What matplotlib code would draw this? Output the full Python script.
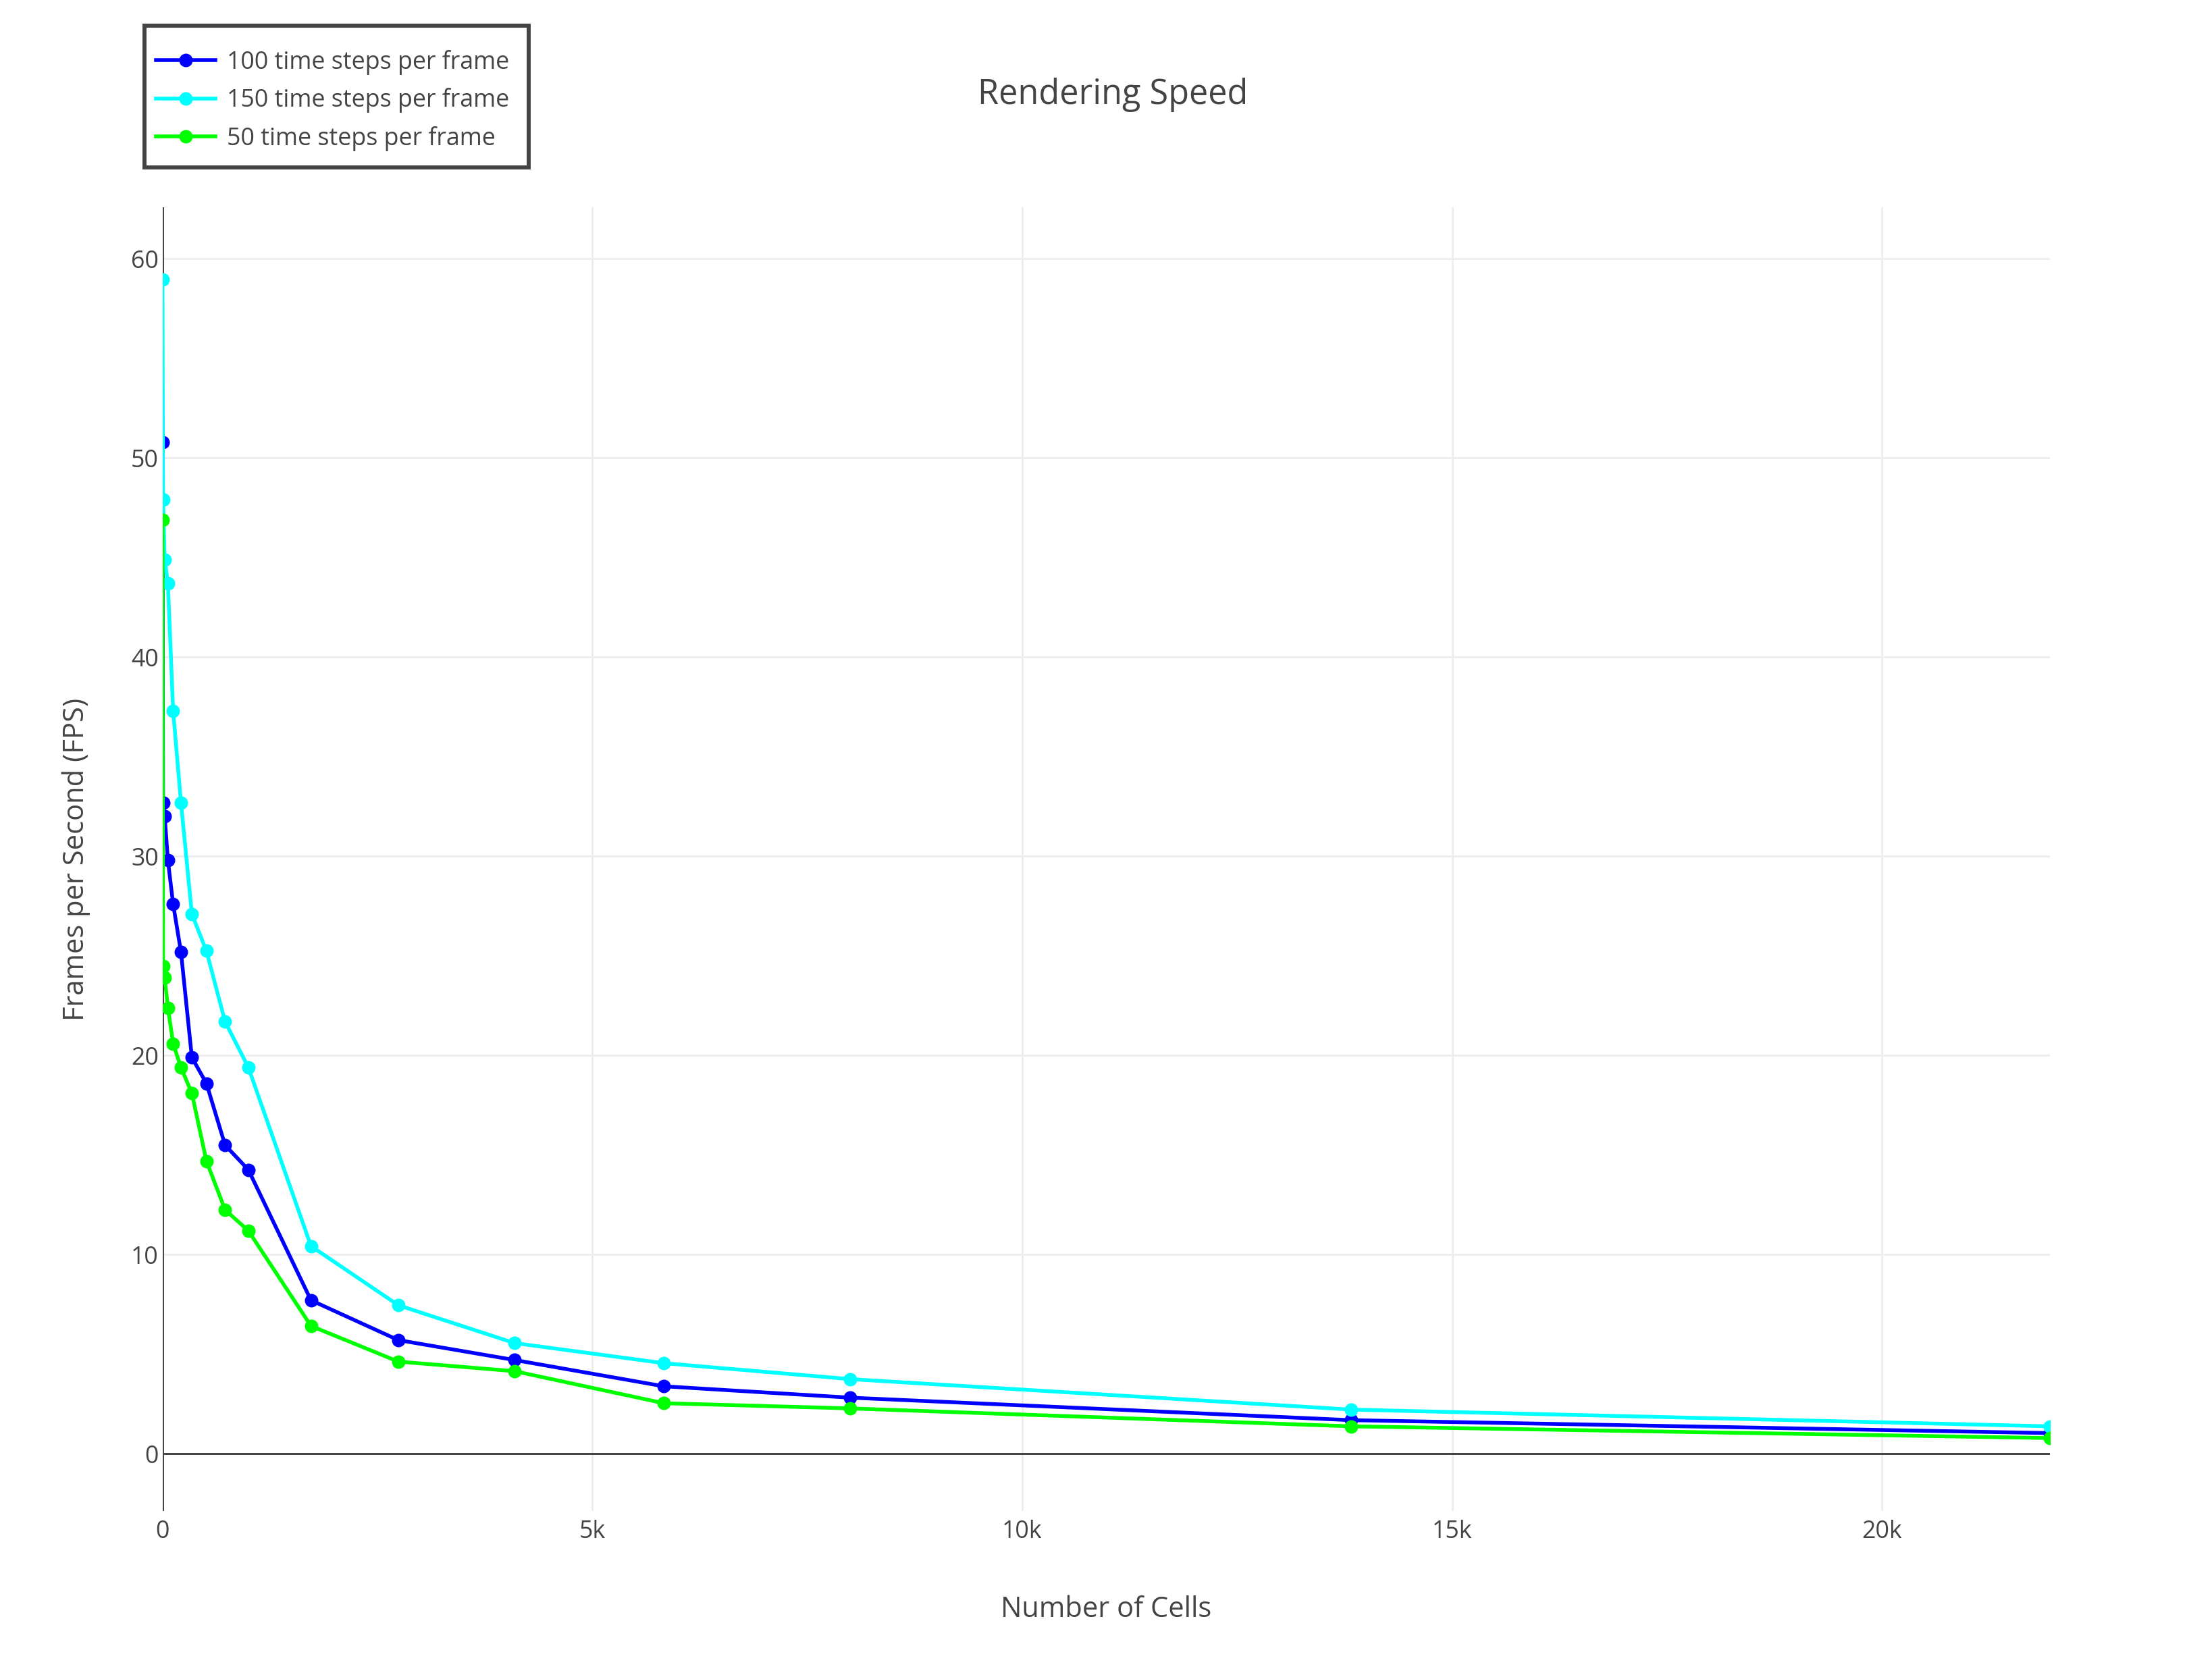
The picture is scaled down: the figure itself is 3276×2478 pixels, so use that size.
import matplotlib as mpl
mpl.use('Agg')
import matplotlib.pyplot as plt
from matplotlib.patches import Rectangle
from matplotlib.ticker import FixedLocator, FixedFormatter

# data
n_cells = [1, 8, 27, 64, 125, 216, 343, 512, 729, 1000,
           1728, 2744, 4096, 5832, 8000, 13824, 21952]

fps_100 = [50.8, 32.7, 32.0, 29.8, 27.6, 25.2, 19.9, 18.6, 15.5, 14.26,
           7.71, 5.71, 4.71, 3.39, 2.82, 1.69, 1.04]
fps_150 = [58.96, 47.9, 44.9, 43.7, 37.3, 32.7, 27.1, 25.25, 21.7, 19.4,
           10.43, 7.46, 5.56, 4.55, 3.75, 2.22, 1.38]
fps_50 = [46.9, 24.5, 23.9, 22.4, 20.6, 19.4, 18.1, 14.7, 12.25, 11.2,
          6.42, 4.63, 4.15, 2.54, 2.28, 1.38, 0.79]

series = [('100 time steps per frame', fps_100, '#0000ff'),
          ('150 time steps per frame', fps_150, '#00ffff'),
          ('50 time steps per frame', fps_50, '#00ff00')]

x_ticks = [0, 5000, 10000, 15000, 20000]
x_ticklabels = ['0', '5k', '10k', '15k', '20k']
y_ticks = [0, 10, 20, 30, 40, 50, 60]

clr_txt = '#444444'
clr_grid = '#eeeeee'

rDPI = 200
W, H = 3276, 2478

plt.rcParams['font.family'] = ['Open Sans', 'DejaVu Sans']

fig = plt.figure(figsize=(W/rDPI, H/rDPI), dpi=rDPI, facecolor='w')

# axes box in pixels (left, top, right, bottom)
px_l, px_t, px_r, px_b = 240.5, 306.7, 3036., 2238.3
ax = fig.add_axes([px_l/W, 1.-px_b/H, (px_r-px_l)/W, (px_b-px_t)/H])

for cname, yy, clr in series:
    ax.plot(n_cells, yy, color=clr, lw=2.0, marker='o', ms=6.2,
            mec=clr, mfc=clr, label=cname, zorder=3)

ax.set_xlim(0, 21952)
ax.set_ylim(-2.88, 62.6)

ax.xaxis.set_major_locator(FixedLocator(x_ticks))
ax.xaxis.set_major_formatter(FixedFormatter(x_ticklabels))
ax.yaxis.set_major_locator(FixedLocator(y_ticks))

ax.grid(True, color=clr_grid, lw=1.07, zorder=0)
ax.set_axisbelow(True)
ax.axhline(0, color=clr_txt, lw=1.07, zorder=2)
ax.axvline(0, color=clr_txt, lw=1.07, zorder=2)

for sp in ax.spines.values():
    sp.set_visible(False)

ax.tick_params(axis='both', which='both', length=0, labelsize=12.9,
               labelcolor=clr_txt)
ax.tick_params(axis='x', pad=4.5)
ax.tick_params(axis='y', pad=2)

fig.text(0.503, 1.-140.5/H, 'Rendering Speed', ha='center', va='center',
         fontsize=18.2, color=clr_txt)
fig.text((px_l+px_r)/2./W, 1.-2384./H, 'Number of Cells', ha='center',
         va='center', fontsize=15., color=clr_txt)
fig.text(113./W, 1.-(px_t+px_b)/2./H, 'Frames per Second (FPS)', ha='center',
         va='center', rotation=90, fontsize=15., color=clr_txt)

# legend frame drawn separately, so the padding can be set per side
fig.patches.append(Rectangle((214./W, 1.-248./H), 569./W, 210./H,
                             transform=fig.transFigure, facecolor='w',
                             edgecolor=clr_txt, lw=2.15, zorder=5))
hh, ll = ax.get_legend_handles_labels()
leg = fig.legend(hh, ll, loc='upper left', bbox_to_anchor=(231./W, 1.-73.7/H),
                 bbox_transform=fig.transFigure, fontsize=12.9,
                 frameon=False, handlelength=2.45, handletextpad=0.47,
                 borderpad=0., labelspacing=0.545, borderaxespad=0.)
leg.set_zorder(6)
for tt in leg.get_texts():
    tt.set_color(clr_txt)

plt.savefig('out.png', dpi=rDPI, facecolor='w')
plt.close(fig)
